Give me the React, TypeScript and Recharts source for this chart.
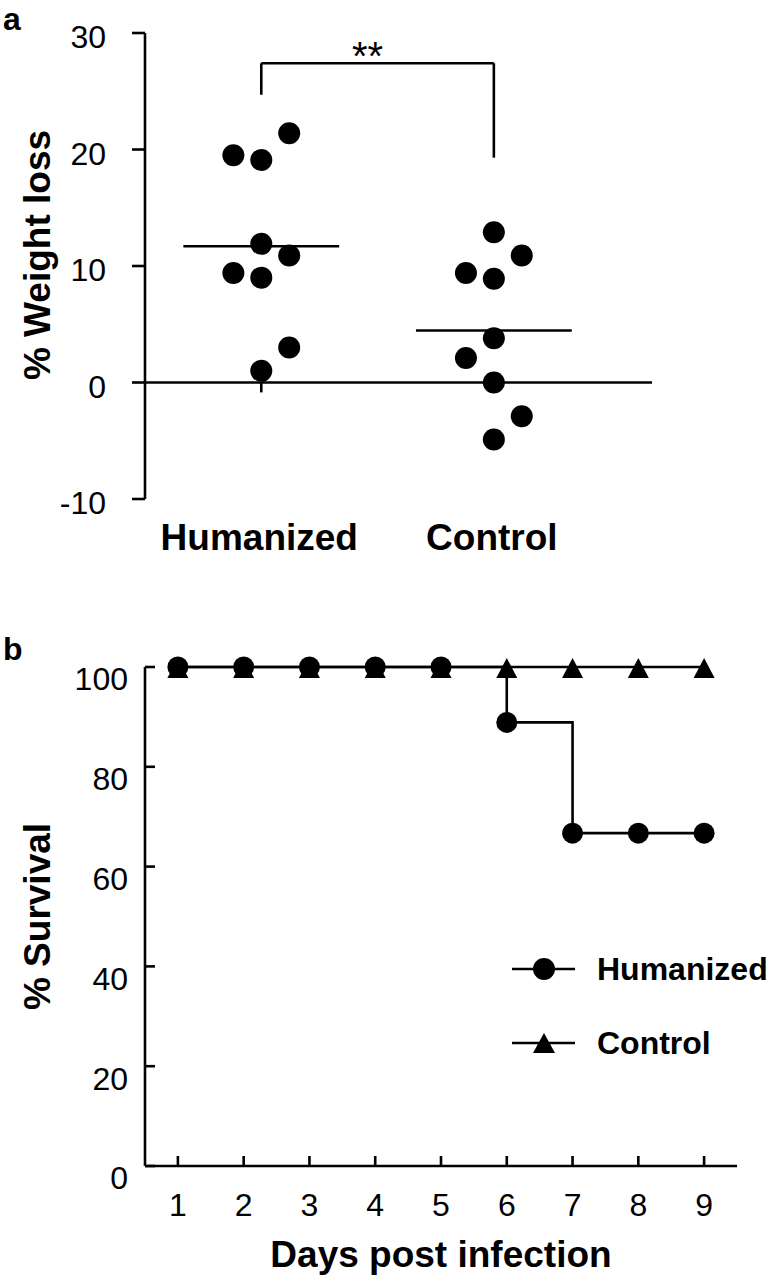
import React from "react";
import {
	ScatterChart,
	Scatter,
	LineChart,
	Line,
	XAxis,
	YAxis,
	ReferenceLine,
	Legend,
} from "recharts";

// panel a: % weight loss per mouse
const groups = ["Humanized", "Control"];
const humanizedX = [1.12, 0.88, 1, 1, 1.12, 0.88, 1, 1.12, 1];
const humanizedLoss = [21.4, 19.5, 19.1, 11.9, 10.9, 9.4, 9.0, 3.0, 1.0];
const controlX = [2, 2.12, 1.88, 2, 2, 1.88, 2, 2.12, 2];
const controlLoss = [12.9, 10.9, 9.4, 8.9, 3.8, 2.1, 0, -2.9, -4.9];
const lossTicks = [-10, 0, 10, 20, 30];
const bracket = [24.7, 27.4, 19.3]; // left foot, top, right foot

// panel b: survival
const days = [1, 2, 3, 4, 5, 6, 7, 8, 9];
const humanizedSurvival = [100, 100, 100, 100, 100, 88.9, 66.7, 66.7, 66.7];
const controlSurvival = [100, 100, 100, 100, 100, 100, 100, 100, 100];
const survivalTicks = [0, 20, 40, 60, 80, 100];

const FONT = '"Liberation Sans", Arial, sans-serif';
const INK = "#000";
const SW = 2.6;

const mean = (v: number[]) => v.reduce((a, b) => a + b, 0) / v.length;

const humanizedPts = humanizedX.map((x, i) => ({ x, y: humanizedLoss[i] }));
const controlPts = controlX.map((x, i) => ({ x, y: controlLoss[i] }));

const survivalData = days.map((day, i) => ({
	day,
	humanized: humanizedSurvival[i],
	control: controlSurvival[i],
}));

const Dot = (props: any) => (
	<circle cx={props.cx} cy={props.cy} r={11} fill={INK} />
);

const CircleDot = (props: any) => {
	if (props.cx == null) return null;
	return <circle key={`c-${props.index}`} cx={props.cx} cy={props.cy} r={10.5} fill={INK} />;
};

const TriangleDot = (props: any) => {
	if (props.cx == null) return null;
	const { cx, cy } = props;
	return (
		<path
			key={`t-${props.index}`}
			d={`M${cx},${cy - 9} L${cx + 10.5},${cy + 11} L${cx - 10.5},${cy + 11} Z`}
			fill={INK}
		/>
	);
};

const GroupTick = (props: any) => (
	<text
		x={props.x - 2}
		y={props.y + 43}
		textAnchor="middle"
		fontFamily={FONT}
		fontWeight="bold"
		fontSize={37}
		fill={INK}
	>
		{groups[props.payload.value - 1]}
	</text>
);

const SurvivalLegend = () => (
	<div style={{ fontFamily: FONT, fontWeight: "bold", fontSize: 32, color: INK }}>
		<div style={{ display: "flex", alignItems: "center", height: 40 }}>
			<svg width={63} height={40}>
				<line x1={0} y1={20} x2={63} y2={20} stroke={INK} strokeWidth={SW} />
				<circle cx={32} cy={20} r={11} fill={INK} />
			</svg>
			<span style={{ marginLeft: 22, lineHeight: "40px" }}>Humanized</span>
		</div>
		<div style={{ display: "flex", alignItems: "center", height: 40, marginTop: 34 }}>
			<svg width={63} height={40}>
				<line x1={0} y1={20} x2={63} y2={20} stroke={INK} strokeWidth={SW} />
				<path d="M32,10 L43,30 L21,30 Z" fill={INK} />
			</svg>
			<span style={{ marginLeft: 22, lineHeight: "40px" }}>Control</span>
		</div>
	</div>
);

export default function App() {
	const hMean = mean(humanizedLoss);
	const cMean = mean(controlLoss);
	const numTick = { fontFamily: FONT, fontSize: 32, fill: INK };

	return (
		<div
			style={{
				position: "absolute",
				left: 0,
				top: 0,
				width: 769,
				height: 1278,
				background: "#fff",
			}}
		>
			<svg
				width={769}
				height={1278}
				style={{ position: "absolute", left: 0, top: 0, pointerEvents: "none" }}
			>
				<text x={3} y={30} fontFamily={FONT} fontWeight="bold" fontSize={32} fill={INK}>
					a
				</text>
				<text x={3} y={660} fontFamily={FONT} fontWeight="bold" fontSize={32} fill={INK}>
					b
				</text>
			</svg>

			<div style={{ position: "absolute", left: 0, top: 0 }}>
				<ScatterChart
					width={769}
					height={600}
					margin={{ top: 33, right: 117, bottom: 20, left: 0 }}
				>
					<XAxis
						type="number"
						dataKey="x"
						domain={[0.5, 2.68]}
						ticks={[1, 2]}
						axisLine={false}
						tickLine={false}
						height={81}
						tick={<GroupTick />}
					/>
					<YAxis
						type="number"
						dataKey="y"
						domain={[-10, 30]}
						ticks={lossTicks}
						width={145}
						tickSize={13}
						tickMargin={26}
						axisLine={{ stroke: INK, strokeWidth: SW }}
						tickLine={{ stroke: INK, strokeWidth: SW }}
						tick={{ ...numTick, dy: 4 }}
						label={{
							content: (p: any) => {
								const vb = p.viewBox;
								const cy = vb.y + vb.height / 2 - 11;
								return (
									<text
										x={50}
										y={cy}
										transform={`rotate(-90 50 ${cy})`}
										textAnchor="middle"
										fontFamily={FONT}
										fontWeight="bold"
										fontSize={37}
										fill={INK}
									>
										% Weight loss
									</text>
								);
							},
						}}
					/>
					<ReferenceLine y={0} stroke={INK} strokeWidth={SW} />
					<ReferenceLine segment={[{ x: 1, y: 0 }, { x: 1, y: -0.85 }]} stroke={INK} strokeWidth={SW} />
					<ReferenceLine segment={[{ x: 2, y: 0 }, { x: 2, y: -0.85 }]} stroke={INK} strokeWidth={SW} />
					<ReferenceLine
						segment={[{ x: 1 - 0.335, y: hMean }, { x: 1 + 0.335, y: hMean }]}
						stroke={INK}
						strokeWidth={SW}
					/>
					<ReferenceLine
						segment={[{ x: 2 - 0.335, y: cMean }, { x: 2 + 0.335, y: cMean }]}
						stroke={INK}
						strokeWidth={SW}
					/>
					<ReferenceLine
						segment={[{ x: 1, y: bracket[0] }, { x: 1, y: bracket[1] }]}
						stroke={INK}
						strokeWidth={SW}
					/>
					<ReferenceLine
						segment={[{ x: 2, y: bracket[1] }, { x: 2, y: bracket[2] }]}
						stroke={INK}
						strokeWidth={SW}
					/>
					<ReferenceLine
						segment={[{ x: 1, y: bracket[1] }, { x: 2, y: bracket[1] }]}
						stroke={INK}
						strokeWidth={SW}
						label={{
							content: (p: any) => {
								const vb = p.viewBox;
								return (
									<text
										x={vb.x + vb.width / 2 - 10}
										y={vb.y + 7}
										textAnchor="middle"
										fontFamily={FONT}
										fontSize={40}
										fill={INK}
									>
										**
									</text>
								);
							},
						}}
					/>
					<Scatter data={humanizedPts} shape={<Dot />} isAnimationActive={false} />
					<Scatter data={controlPts} shape={<Dot />} isAnimationActive={false} />
				</ScatterChart>
			</div>

			<div style={{ position: "absolute", left: 0, top: 620 }}>
				<LineChart
					width={769}
					height={658}
					data={survivalData}
					margin={{ top: 47, right: 32, bottom: 0, left: 0 }}
				>
					<XAxis
						type="number"
						dataKey="day"
						domain={[0.5, 9.5]}
						ticks={days}
						height={112}
						tickSize={-10}
						tickMargin={37}
						axisLine={{ stroke: INK, strokeWidth: SW }}
						tickLine={{ stroke: INK, strokeWidth: SW }}
						tick={numTick}
						label={{
							content: (p: any) => {
								const vb = p.viewBox;
								return (
									<text
										x={vb.x + vb.width / 2}
										y={vb.y + 101}
										textAnchor="middle"
										fontFamily={FONT}
										fontWeight="bold"
										fontSize={37}
										fill={INK}
									>
										Days post infection
									</text>
								);
							},
						}}
					/>
					<YAxis
						type="number"
						domain={[0, 100]}
						ticks={survivalTicks}
						width={145}
						tickSize={-10}
						tickMargin={27}
						axisLine={{ stroke: INK, strokeWidth: SW }}
						tickLine={{ stroke: INK, strokeWidth: SW }}
						tick={{ ...numTick, dy: 12 }}
						label={{
							content: (p: any) => {
								const vb = p.viewBox;
								const cy = vb.y + vb.height / 2;
								return (
									<text
										x={50}
										y={cy}
										transform={`rotate(-90 50 ${cy})`}
										textAnchor="middle"
										fontFamily={FONT}
										fontWeight="bold"
										fontSize={37}
										fill={INK}
									>
										% Survival
									</text>
								);
							},
						}}
					/>
					<Legend
						layout="vertical"
						align="center"
						verticalAlign="middle"
						content={<SurvivalLegend />}
						wrapperStyle={{ left: 512, top: 329, width: 260 }}
					/>
					<Line
						dataKey="control"
						name="Control"
						type="linear"
						stroke={INK}
						strokeWidth={SW}
						dot={TriangleDot}
						isAnimationActive={false}
					/>
					<Line
						dataKey="humanized"
						name="Humanized"
						type="stepAfter"
						stroke={INK}
						strokeWidth={SW}
						dot={CircleDot}
						isAnimationActive={false}
					/>
				</LineChart>
			</div>
		</div>
	);
}
